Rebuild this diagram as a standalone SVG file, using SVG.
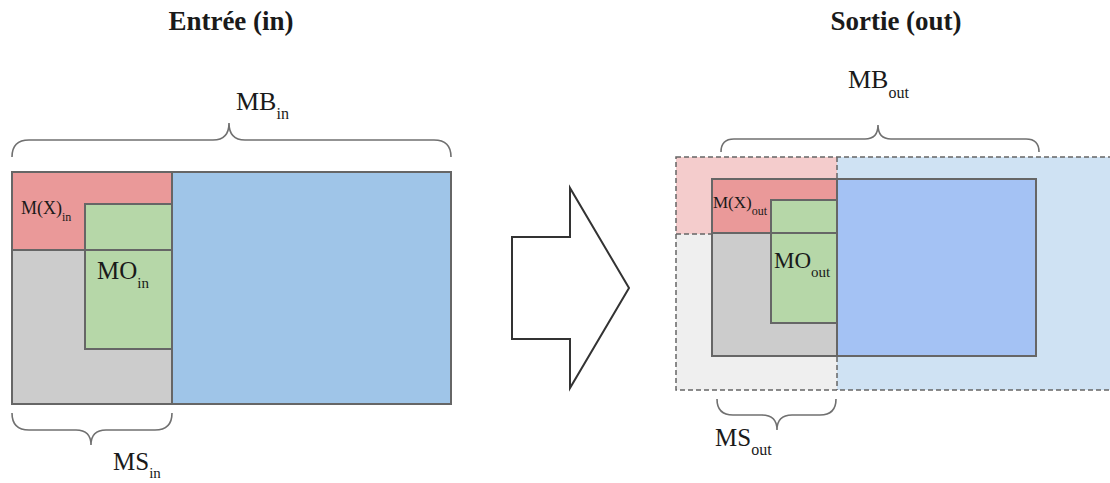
<svg xmlns="http://www.w3.org/2000/svg" width="1110" height="483" viewBox="0 0 1110 483">
  <style>
    .t { font-family: "Liberation Serif", "Times New Roman", serif; fill: #1a1a1a; }
    .title { font-weight: bold; font-size: 27px; text-anchor: middle; }
    .box { stroke: #666666; stroke-width: 2; }
    .dash { fill: none; stroke: #666666; stroke-width: 1.5; stroke-dasharray: 5 3; }
    .brace { fill: none; stroke: #707070; stroke-width: 1.6; }
  </style>
  <rect width="1110" height="483" fill="#ffffff"/>

  <text class="t title" x="231" y="30">Entrée (in)</text>
  <text class="t title" x="896" y="30">Sortie (out)</text>

  <!-- Left: input -->
  <g id="in-mb">
    <rect class="box" x="172" y="172" width="279" height="232" fill="#9fc5e8"/>
  </g>
  <g id="in-mx">
    <rect class="box" x="12" y="172" width="160" height="78" fill="#ea9999"/>
    <text class="t" x="21" y="214" font-size="18">M(X)<tspan font-size="12" dy="7">in</tspan></text>
  </g>
  <g id="in-ms">
    <rect class="box" x="12" y="250" width="160" height="154" fill="#cccccc"/>
  </g>
  <g id="in-mo">
    <rect class="box" x="85" y="204" width="87" height="145" fill="#b6d7a8"/>
    <line class="box" x1="12" y1="250" x2="172" y2="250"/>
    <text class="t" x="97" y="279" font-size="25">MO<tspan font-size="15" dy="9">in</tspan></text>
  </g>

  <!-- Arrow -->
  <g id="arrow">
    <polygon points="512,237 570,237 570,188 629,288 570,388 570,339 512,339" fill="#ffffff" stroke="#333333" stroke-width="2" stroke-linejoin="miter"/>
  </g>

  <!-- Right: output -->
  <g id="out-background">
    <rect x="676" y="157" width="161" height="77" fill="#f4cccc"/>
    <rect x="676" y="234" width="161" height="156" fill="#efefef"/>
    <rect x="837" y="157" width="275" height="233" fill="#cfe2f3"/>
    <rect class="dash" x="676" y="157" width="440" height="233"/>
    <line class="dash" x1="837" y1="157" x2="837" y2="390"/>
    <line class="dash" x1="676" y1="234" x2="712" y2="234"/>
  </g>
  <g id="out-ms">
    <rect class="box" x="712" y="233" width="125" height="123" fill="#cccccc"/>
  </g>
  <g id="out-mx">
    <rect class="box" x="712" y="179" width="125" height="54" fill="#ea9999"/>
    <text class="t" x="713" y="208" font-size="17">M(X)<tspan font-size="12" dy="7">out</tspan></text>
  </g>
  <g id="out-mb">
    <rect class="box" x="837" y="179" width="199" height="177" fill="#a4c2f4"/>
  </g>
  <g id="out-mo">
    <rect class="box" x="771" y="200" width="66" height="123" fill="#b6d7a8"/>
    <line class="box" x1="712" y1="233" x2="837" y2="233"/>
    <text class="t" x="774" y="268" font-size="23">MO<tspan font-size="15" dy="9">out</tspan></text>
  </g>

  <!-- Braces and their labels -->
  <g id="connectors">
    <path class="brace" d="M 12 157 Q 12 140 29 140 L 213 140 Q 229 140 229 123 Q 229 140 245 140 L 434 140 Q 451 140 451 157"/>
    <path class="brace" d="M 721 152 Q 721 139 734 139 L 865 139 Q 878 139 878 125 Q 878 139 891 139 L 1026 139 Q 1039 139 1039 152"/>
    <path class="brace" d="M 12 413 Q 12 430 29 430 L 76 430 Q 91 430 91 445 Q 91 430 106 430 L 155 430 Q 172 430 172 413"/>
    <path class="brace" d="M 717 399 Q 717 415 733 415 L 762 415 Q 777 415 777 430 Q 777 415 792 415 L 820 415 Q 836 415 836 399"/>
  </g>
  <g id="labels">
    <text class="t" x="236" y="110" font-size="26">MB<tspan font-size="16" dy="9">in</tspan></text>
    <text class="t" x="848" y="88" font-size="26">MB<tspan font-size="16" dy="10">out</tspan></text>
    <text class="t" x="113" y="470" font-size="25">MS<tspan font-size="15" dy="8">in</tspan></text>
    <text class="t" x="715" y="446" font-size="25">MS<tspan font-size="16" dy="9">out</tspan></text>
  </g>
</svg>
